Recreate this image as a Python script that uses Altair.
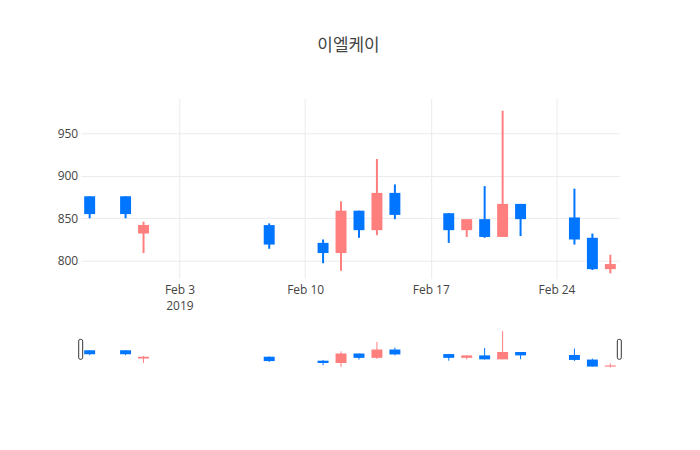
import altair as alt
import pandas as pd

# daily prices
dates = ["2019-01-29", "2019-01-31", "2019-02-01", "2019-02-08", "2019-02-11",
         "2019-02-12", "2019-02-13", "2019-02-14", "2019-02-15", "2019-02-18",
         "2019-02-19", "2019-02-20", "2019-02-21", "2019-02-22", "2019-02-25",
         "2019-02-26", "2019-02-27"]
open_ = [876, 876, 832, 842, 821, 809, 859, 836, 880, 856, 836, 849, 828, 867, 851, 827, 790]
high = [876, 876, 846, 844, 825, 870, 859, 920, 890, 856, 849, 888, 977, 867, 885, 832, 807]
low = [850, 850, 809, 814, 797, 788, 827, 830, 849, 821, 828, 827, 828, 829, 819, 789, 785]
close = [855, 855, 842, 819, 809, 859, 836, 880, 854, 836, 849, 828, 867, 849, 825, 790, 796]

y_ticks = [800, 850, 900, 950]
x_ticks = [alt.DateTime(year=2019, month=2, date=d) for d in [3, 10, 17, 24]]

df = pd.DataFrame({
    "date": pd.to_datetime(dates),
    "open": open_,
    "high": high,
    "low": low,
    "close": close,
})
df["dir"] = ["up" if c >= o else "down" for o, c in zip(open_, close)]

x_start = alt.DateTime(year=2019, month=1, date=28, hours=12)
x_end = alt.DateTime(year=2019, month=2, date=27, hours=12)
x_scale = alt.Scale(domain=[x_start, x_end], padding=0)
color = alt.Color("dir:N", scale=alt.Scale(domain=["up", "down"],
                                           range=["#ff7f7f", "#0075ff"]), legend=None)

FONT = "Open Sans, Noto Sans CJK KR"

base = alt.Chart(df)

# main candlestick panel
x_main = alt.X("date:T", scale=x_scale, title=None,
               axis=alt.Axis(values=x_ticks, domain=False, ticks=False, labelPadding=6,
                             labelLineHeight=16, gridColor="#ebebeb",
                             labelExpr="date(datum.value) == 3 ? [timeFormat(datum.value, '%b %-d'), timeFormat(datum.value, '%Y')] : timeFormat(datum.value, '%b %-d')"))
y_main = alt.Scale(domain=[778.8, 991.5], nice=False, zero=False, padding=0)

wick = base.mark_rule(strokeWidth=2).encode(
    x=x_main,
    y=alt.Y("low:Q", scale=y_main, title=None,
            axis=alt.Axis(values=y_ticks, domain=False, ticks=False, labelPadding=3,
                          gridColor="#ebebeb")),
    y2="high:Q",
    color=color,
)
body = base.mark_bar(size=11).encode(
    x=x_main,
    y=alt.Y("open:Q", scale=y_main),
    y2="close:Q",
    color=color,
)
main = (wick + body).properties(width=541, height=181)

# range slider preview
x_mini = alt.X("date:T", scale=x_scale, axis=None)
y_mini = alt.Scale(domain=[776, 986], nice=False, zero=False, padding=0)

mini_wick = base.mark_rule(strokeWidth=1).encode(
    x=x_mini, y=alt.Y("low:Q", scale=y_mini, axis=None), y2="high:Q", color=color)
mini_body = base.mark_bar(size=11).encode(
    x=x_mini, y=alt.Y("open:Q", scale=y_mini), y2="close:Q", color=color)

handles = alt.Chart(pd.DataFrame({"date": [pd.Timestamp("2019-01-28 12:00"),
                                           pd.Timestamp("2019-02-27 12:00")]}))
handle = handles.mark_bar(size=4, cornerRadius=1.5, fill="white", stroke="#333",
                          strokeWidth=1).encode(
    x=x_mini, y=alt.value(10), y2=alt.value(30))

slider = (mini_wick + mini_body + handle).properties(width=541, height=40)

chart = alt.vconcat(main, slider, spacing=18).properties(
    title=alt.TitleParams("이엘케이", fontSize=17, font=FONT, fontWeight="normal",
                          color="#444", anchor="middle", offset=44, dx=9),
    padding={"left": 49, "top": 28, "right": 70, "bottom": 10},
).configure_view(
    stroke=None
).configure_axis(
    labelFont=FONT, labelFontSize=12, labelColor="#444"
)

chart.save("out.html", embed_options={"renderer": "svg", "actions": False})
